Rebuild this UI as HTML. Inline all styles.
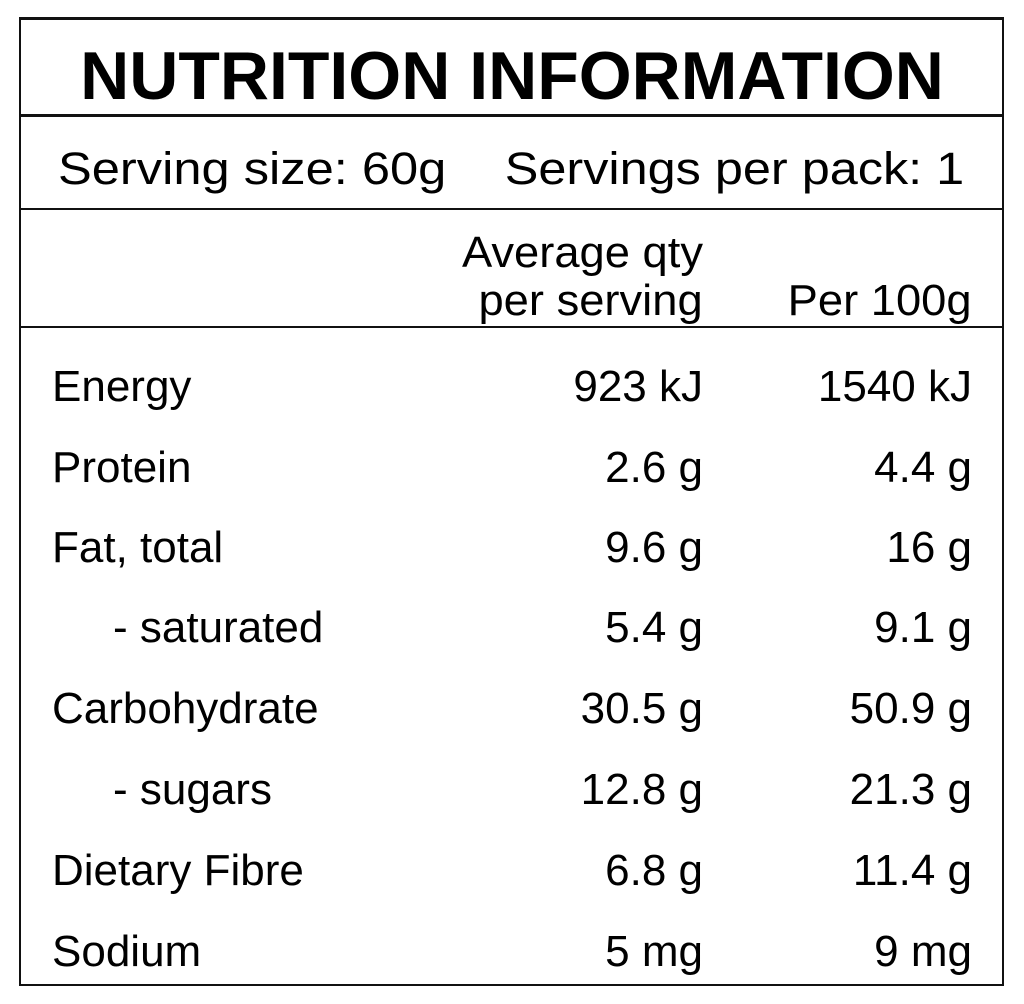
<!DOCTYPE html>
<html><head><style>
body{margin:0;background:#fff;width:1024px;height:1004px;position:relative;overflow:hidden;font-family:"Liberation Sans",Arial,sans-serif;color:#000}
.b{position:absolute;left:19px;top:17px;width:981px;height:964px;border:2px solid #111;border-top-width:3px}
.h{position:absolute;left:20px;width:982px;background:#111}
.t{position:absolute;line-height:1;white-space:nowrap;font-size:44px}
.r{text-align:right}
</style></head><body>
<div class="b"></div>
<div class="h" style="top:114px;height:3px"></div>
<div class="h" style="top:208px;height:2px"></div>
<div class="h" style="top:326px;height:2px"></div>
<div class="t" style="left:0;width:1024px;text-align:center;top:42px;font-size:68px;font-weight:bold;">NUTRITION INFORMATION</div>
<div class="t" style="left:58px;top:146px;font-size:45px;transform:scaleX(1.125);transform-origin:left">Serving size: 60g</div>
<div class="t" style="right:60px;top:146px;font-size:45px;transform:scaleX(1.12);transform-origin:right">Servings per pack: 1</div>
<div class="t r" style="right:321px;top:231px;transform:scaleX(1.03);transform-origin:right">Average qty</div>
<div class="t r" style="right:321px;top:279px;transform:scaleX(1.03);transform-origin:right">per serving</div>
<div class="t r" style="right:52px;top:279px;transform:scaleX(1.03);transform-origin:right">Per 100g</div>

<div class="t" style="left:52px;top:365px">Energy</div><div class="t" style="right:321px;top:365px">923 kJ</div><div class="t" style="right:52px;top:365px">1540 kJ</div>
<div class="t" style="left:52px;top:446px">Protein</div><div class="t" style="right:321px;top:446px">2.6 g</div><div class="t" style="right:52px;top:446px">4.4 g</div>
<div class="t" style="left:52px;top:526px">Fat, total</div><div class="t" style="right:321px;top:526px">9.6 g</div><div class="t" style="right:52px;top:526px">16 g</div>
<div class="t" style="left:113px;top:606px">- saturated</div><div class="t" style="right:321px;top:606px">5.4 g</div><div class="t" style="right:52px;top:606px">9.1 g</div>
<div class="t" style="left:52px;top:687px">Carbohydrate</div><div class="t" style="right:321px;top:687px">30.5 g</div><div class="t" style="right:52px;top:687px">50.9 g</div>
<div class="t" style="left:113px;top:768px">- sugars</div><div class="t" style="right:321px;top:768px">12.8 g</div><div class="t" style="right:52px;top:768px">21.3 g</div>
<div class="t" style="left:52px;top:849px">Dietary Fibre</div><div class="t" style="right:321px;top:849px">6.8 g</div><div class="t" style="right:52px;top:849px">11.4 g</div>
<div class="t" style="left:52px;top:930px">Sodium</div><div class="t" style="right:321px;top:930px">5 mg</div><div class="t" style="right:52px;top:930px">9 mg</div>
</body></html>
